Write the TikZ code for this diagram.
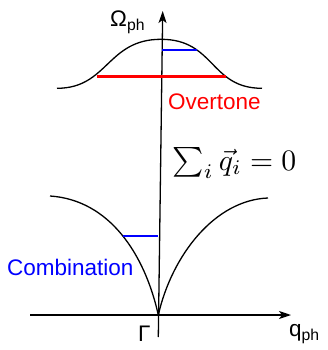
\documentclass[tikz,border=0pt]{standalone}
\usepackage{fontspec}
\setmainfont{Liberation Sans}
\usetikzlibrary{arrows.meta}
\definecolor{over}{HTML}{FF0000}
\definecolor{comb}{HTML}{0000FF}

\begin{document}
\begin{tikzpicture}[
  x=1pt,y=-1pt,
  axis/.style={line width=1.3pt,-{Stealth[length=12pt,width=8pt,inset=3pt]}},
  branch/.style={line width=1.3pt},
  lbl/.style={font=\fontsize{22.5}{26}\selectfont,inner sep=0pt},
  lvl/.style={line width=1.4pt}
]
\useasboundingbox (0,0) rectangle (327,350);

% axes
\coordinate (G) at (158.3,315);
\coordinate (vbot) at (158.3,337);
\coordinate (vtop) at (162.7,11);
\coordinate (hl) at (30,315);
\coordinate (hr) at (291,315);
\draw[axis] (vbot) -- (vtop);
\draw[axis] (hl) -- (hr);

\node[lbl,anchor=base west] (omega) at (110,26.5) {Ω\textsubscript{ph}};
\node[lbl,anchor=base west] (gamma) at (138,341) {Γ};
\node[lbl,anchor=base west] (qph) at (289,336) {q\textsubscript{ph}};

% optical branch
\draw[branch] (57,88.3) .. controls (108,88.3) and (107,39.3) .. (161,39.3)
  .. controls (215,39.3) and (210,88.3) .. (262,88.3);
% acoustic branches
\draw[branch] (G) .. controls (145,255) and (110,200) .. (50,196);
\draw[branch] (G) .. controls (172,255) and (215,200) .. (268,198);

% levels
\coordinate (ovl) at (96.7,76.7);
\coordinate (ovr) at (226,76.7);
\draw[lvl,over,line width=2.4pt] (ovl) -- (ovr);
\coordinate (cbt) at (162.2,50);
\coordinate (cbte) at (197.3,50);
\draw[lvl,comb] (cbt) -- (cbte);
\coordinate (cbb) at (158.3,236);
\coordinate (cbbe) at (123,236);
\draw[lvl,comb] (cbb) -- (cbbe);

\node[lbl,anchor=base west,text=over] (overtone) at (168,110) {Overtone};
\node[lbl,anchor=base west,text=comb] (combination) at (7,275) {Combination};
\node[inner sep=0pt,anchor=base west,font=\normalsize,scale=2.97] (momsum) at (172,170)
  {$\sum_i \vec{q}_i = 0$};
\end{tikzpicture}
\end{document}
